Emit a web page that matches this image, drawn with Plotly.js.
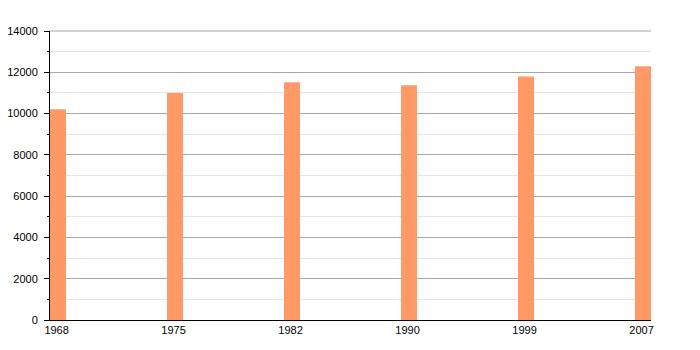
<!DOCTYPE html>
<html>
<head>
<meta charset="utf-8">
<script src="https://cdn.plot.ly/plotly-3.0.1.min.js"></script>
<style>html,body{margin:0;padding:0;background:#fff;}#chart{width:700px;height:350px;}</style>
</head>
<body>
<div id="chart"></div>
<script>
const years = ['1968', '1975', '1982', '1990', '1999', '2007'];
const population = [10210, 11000, 11520, 11370, 11800, 12290];
const yMax = 14000;

const barWidth = 0.137;
const xPos = years.map((_, i) => i);

const trace = {
  type: 'bar',
  x: xPos,
  y: population,
  width: barWidth,
  offset: 0,
  marker: { color: '#ff9966', line: { width: 0 } },
  hoverinfo: 'x+y'
};

const layout = {
  width: 700,
  height: 350,
  margin: { l: 50, r: 49, t: 31, b: 30 },
  paper_bgcolor: '#ffffff',
  plot_bgcolor: '#ffffff',
  showlegend: false,
  font: { family: 'Liberation Sans, Arial, sans-serif', size: 11, color: '#000' },
  xaxis: {
    type: 'linear',
    range: [0, years.length - 1 + barWidth],
    tickvals: xPos.map(i => i + barWidth / 2 - 0.012),
    ticktext: years,
    ticks: '',
    showgrid: false,
    zeroline: false,
    showline: true,
    linecolor: '#000',
    linewidth: 1,
    tickfont: { size: 11, color: '#000' }
  },
  yaxis: {
    range: [0, yMax],
    dtick: 2000,
    tick0: 0,
    ticks: 'outside',
    ticklen: 5,
    tickcolor: '#000',
    ticklabelstandoff: 4,
    showline: true,
    linecolor: '#000',
    linewidth: 1,
    zeroline: false,
    showgrid: true,
    gridcolor: '#a8a8a8',
    gridwidth: 1,
    tickformat: 'd',
    tickfont: { size: 11, color: '#000' },
    minor: {
      dtick: 1000,
      showgrid: true,
      gridcolor: '#e4e4e4',
      ticks: 'outside',
      ticklen: 2,
      tickcolor: '#000'
    }
  },
  shapes: [{
    type: 'line', xref: 'paper', yref: 'paper',
    x0: 0, x1: 1, y0: 1, y1: 1,
    line: { color: '#a8a8a8', width: 1 },
    layer: 'above'
  }]
};

Plotly.newPlot('chart', [trace], layout, { displayModeBar: false, staticPlot: true });
</script>
</body>
</html>
